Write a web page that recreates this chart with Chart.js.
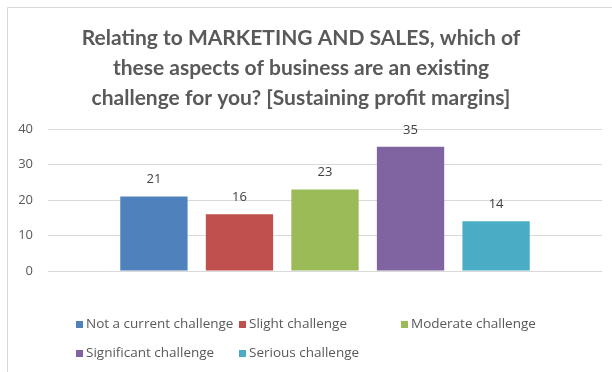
<!DOCTYPE html>
<html>
<head>
<meta charset="utf-8">
<script src="https://cdn.jsdelivr.net/npm/chart.js@4/dist/chart.umd.min.js"></script>
<style>
  html, body { margin: 0; padding: 0; background: #fff; }
  #wrap { position: relative; width: 612px; height: 372px; }
</style>
</head>
<body>
<div id="wrap"><canvas id="chart"></canvas></div>
<script>
// Survey answers, one bar per answer
const categories = [
  "Not a current challenge",
  "Slight challenge",
  "Moderate challenge",
  "Significant challenge",
  "Serious challenge"
];
const responses = [21, 16, 23, 35, 14];
const yTicks = [0, 10, 20, 30, 40];

const titleLines = [
  "Relating to MARKETING AND SALES, which of",
  "these aspects of business are an existing",
  "challenge for you? [Sustaining profit margins]"
];

// Office palette
const barColors = ["#4f81bd", "#c0504d", "#9bbb59", "#8064a2", "#4bacc6"];
const textGray = "#595959";
const uiFont = "'Open Sans', 'DejaVu Sans', sans-serif";

// one dataset per answer so they sit side by side in one cluster
function getDatasets() {
  var datasets = [];
  categories.forEach((name, i) => {
    datasets.push({
      label: name,
      data: [responses[i]],
      backgroundColor: barColors[i],
      borderWidth: 0,
      categoryPercentage: 0.772,
      barPercentage: 0.787
    });
  });
  return datasets;
}

// white background plus the thin frame on the top and left edges
const frame = {
  id: "frame",
  beforeDraw(chart) {
    const c = chart.ctx;
    c.save();
    c.fillStyle = "#fff";
    c.fillRect(0, 0, chart.width, chart.height);
    c.strokeStyle = "#d9d9d9";
    c.lineWidth = 1;
    c.beginPath();
    c.moveTo(7.5, chart.height);
    c.lineTo(7.5, 7.5);
    c.lineTo(chart.width, 7.5);
    c.stroke();
    c.restore();
  }
};

// numbers above each bar
const valueLabels = {
  id: "valueLabels",
  afterDatasetsDraw(chart) {
    const c = chart.ctx;
    c.save();
    c.font = "13px " + uiFont;
    c.fillStyle = "#404040";
    c.textAlign = "center";
    c.textBaseline = "middle";
    chart.data.datasets.forEach((ds, i) => {
      chart.getDatasetMeta(i).data.forEach((bar, j) => {
        c.fillText(String(ds.data[j]), bar.x, bar.y - 17);
      });
    });
    c.restore();
  }
};

// legend laid out on a fixed grid of columns like the spreadsheet one
const gridLegend = {
  id: "gridLegend",
  afterDraw(chart) {
    const c = chart.ctx;
    const colX = [76, 239, 401];
    const rowY = [324, 353];
    c.save();
    c.font = "13.5px " + uiFont;
    c.textBaseline = "middle";
    c.textAlign = "left";
    chart.data.datasets.forEach((ds, i) => {
      const x = colX[i % 3];
      const y = rowY[Math.floor(i / 3)];
      c.fillStyle = ds.backgroundColor;
      c.fillRect(x, y - 3, 7, 7);
      c.fillStyle = textGray;
      c.fillText(ds.label, x + 10, y);
    });
    c.restore();
  }
};

var ctx = document.getElementById("chart");
var theChart = new Chart(ctx, {
  type: "bar",
  data: {
    labels: [""],
    datasets: getDatasets()
  },
  plugins: [frame, valueLabels, gridLegend],
  options: {
    responsive: true,
    maintainAspectRatio: false,
    animation: false,
    layout: {
      padding: { left: 0, right: 10, top: 0, bottom: 101 }
    },
    plugins: {
      legend: { display: false },
      tooltip: { enabled: false },
      title: {
        display: true,
        text: titleLines,
        color: textGray,
        font: { family: "Lato, 'Open Sans', sans-serif", size: 21, weight: "bold", lineHeight: 1.43 },
        padding: { top: 23, bottom: 16 }
      }
    },
    scales: {
      x: {
        display: false
      },
      y: {
        min: 0,
        max: 40,
        afterFit: (scale) => { scale.width = 48; },
        afterBuildTicks: (scale) => {
          scale.ticks = yTicks.map((v) => ({ value: v }));
        },
        border: { display: false },
        grid: { color: "#d9d9d9", drawTicks: false },
        ticks: {
          color: textGray,
          padding: 15,
          font: { family: uiFont, size: 13 }
        }
      }
    }
  }
});
</script>
</body>
</html>
